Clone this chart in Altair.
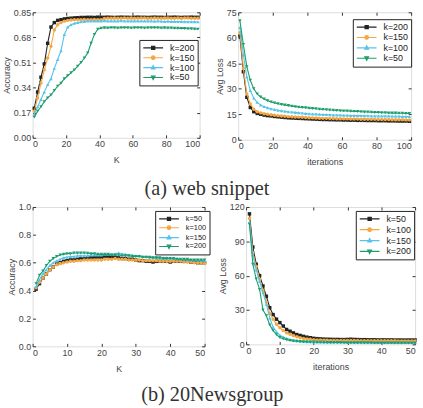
import altair as alt
import pandas as pd

# ---------------- data ----------------
SERIES_A = ["k=200", "k=150", "k=100", "k=50"]
SERIES_B = ["k=50", "k=100", "k=150", "k=200"]
COLORS = ["#222222", "#f4a742", "#56c3ec", "#1d9e6c"]
MARKERS = ["square", "circle", "triangle-up", "triangle-down"]

X_WEB = list(range(1, 101, 2))
X_NEWS = list(range(1, 51))

acc_web_200 = [0.20, 0.31, 0.41, 0.50, 0.64, 0.75, 0.78, 0.795, 0.80, 0.805,
               0.808, 0.81, 0.812, 0.813, 0.815, 0.815, 0.816, 0.816, 0.815, 0.817,
               0.816, 0.816, 0.817, 0.816, 0.815, 0.816, 0.817, 0.816, 0.816, 0.815,
               0.816, 0.817, 0.816, 0.816, 0.815, 0.816, 0.817, 0.816, 0.816, 0.815,
               0.816, 0.816, 0.817, 0.816, 0.815, 0.816, 0.816, 0.817, 0.816, 0.816]
acc_web_150 = [0.18, 0.27, 0.37, 0.46, 0.54, 0.62, 0.73, 0.765, 0.78, 0.79,
               0.795, 0.798, 0.80, 0.80, 0.80, 0.801, 0.80, 0.80, 0.801, 0.80,
               0.80, 0.808, 0.81, 0.81, 0.811, 0.81, 0.81, 0.812, 0.81, 0.811,
               0.81, 0.81, 0.811, 0.812, 0.81, 0.81, 0.811, 0.81, 0.81, 0.812,
               0.811, 0.81, 0.81, 0.811, 0.81, 0.812, 0.811, 0.81, 0.81, 0.81]
acc_web_100 = [0.16, 0.21, 0.26, 0.31, 0.36, 0.40, 0.47, 0.53, 0.59, 0.70,
               0.75, 0.765, 0.775, 0.78, 0.785, 0.787, 0.79, 0.79, 0.79, 0.791,
               0.79, 0.792, 0.79, 0.791, 0.79, 0.79, 0.792, 0.791, 0.79, 0.79,
               0.791, 0.79, 0.79, 0.791, 0.79, 0.79, 0.789, 0.79, 0.789, 0.788,
               0.789, 0.788, 0.787, 0.788, 0.787, 0.786, 0.786, 0.785, 0.786, 0.785]
acc_web_50 = [0.14, 0.18, 0.21, 0.245, 0.27, 0.29, 0.32, 0.35, 0.37, 0.40,
              0.42, 0.44, 0.46, 0.485, 0.51, 0.54, 0.575, 0.64, 0.70, 0.735,
              0.742, 0.745, 0.744, 0.746, 0.745, 0.744, 0.745, 0.746, 0.745, 0.744,
              0.745, 0.746, 0.745, 0.744, 0.745, 0.745, 0.746, 0.745, 0.744, 0.745,
              0.744, 0.743, 0.742, 0.742, 0.741, 0.74, 0.739, 0.738, 0.737, 0.736]

loss_web_200 = [61, 40, 25, 19, 16.5, 15.5, 15, 14.5, 14.2, 14.0,
                13.7, 13.5, 13.3, 13.1, 12.9, 12.8, 12.7, 12.6, 12.5, 12.4,
                12.3, 12.2, 12.1, 12.0, 11.9, 11.9, 11.8, 11.8, 11.7, 11.7,
                11.6, 11.6, 11.5, 11.5, 11.4, 11.4, 11.4, 11.3, 11.3, 11.3,
                11.2, 11.2, 11.2, 11.1, 11.1, 11.1, 11.0, 11.0, 11.0, 10.9]
loss_web_150 = [63, 42, 27, 21, 18, 16.5, 15.8, 15.3, 15.0, 14.7,
                14.4, 14.2, 14.0, 13.8, 13.6, 13.5, 13.4, 13.3, 13.2, 13.1,
                13.0, 12.9, 12.8, 12.7, 12.6, 12.6, 12.5, 12.5, 12.4, 12.4,
                12.3, 12.3, 12.2, 12.2, 12.2, 12.1, 12.1, 12.0, 12.0, 12.0,
                11.9, 11.9, 11.9, 11.9, 11.8, 11.8, 11.8, 11.8, 11.7, 11.7]
loss_web_100 = [66, 50, 37, 29, 24.5, 22, 20.5, 19.5, 18.8, 18.2,
                17.8, 17.4, 17.1, 16.8, 16.5, 16.3, 16.1, 15.9, 15.7, 15.5,
                15.3, 15.2, 15.1, 15.0, 14.9, 14.8, 14.7, 14.6, 14.6, 14.5,
                14.4, 14.4, 14.3, 14.3, 14.2, 14.2, 14.1, 14.1, 14.0, 14.0,
                14.0, 13.9, 13.9, 13.9, 13.8, 13.8, 13.8, 13.7, 13.7, 13.7]
loss_web_50 = [70, 56, 43, 35, 30, 27, 25.2, 24, 23, 22.3,
               21.7, 21.2, 20.8, 20.4, 20.1, 19.8, 19.5, 19.2, 19.0, 18.8,
               18.6, 18.4, 18.2, 18.0, 17.8, 17.7, 17.5, 17.4, 17.2, 17.1,
               17.0, 16.9, 16.8, 16.7, 16.6, 16.5, 16.4, 16.3, 16.2, 16.1,
               16.0, 15.9, 15.9, 15.8, 15.7, 15.7, 15.6, 15.6, 15.5, 15.5]

acc_news_50 = [0.41, 0.45, 0.49, 0.52, 0.55, 0.57, 0.59, 0.60, 0.61, 0.615,
               0.62, 0.62, 0.625, 0.63, 0.63, 0.635, 0.635, 0.64, 0.64, 0.64,
               0.645, 0.645, 0.64, 0.64, 0.635, 0.63, 0.63, 0.625, 0.625, 0.62,
               0.615, 0.615, 0.61, 0.61, 0.605, 0.61, 0.61, 0.61, 0.61, 0.605,
               0.61, 0.61, 0.61, 0.61, 0.61, 0.605, 0.605, 0.60, 0.60, 0.60]
acc_news_100 = [0.42, 0.46, 0.49, 0.52, 0.55, 0.57, 0.585, 0.595, 0.60, 0.605,
                0.61, 0.61, 0.615, 0.615, 0.62, 0.62, 0.62, 0.62, 0.62, 0.62,
                0.625, 0.625, 0.625, 0.63, 0.625, 0.625, 0.625, 0.62, 0.62, 0.62,
                0.62, 0.615, 0.615, 0.615, 0.615, 0.615, 0.61, 0.61, 0.61, 0.61,
                0.61, 0.61, 0.61, 0.605, 0.605, 0.605, 0.60, 0.60, 0.60, 0.595]
acc_news_150 = [0.43, 0.48, 0.52, 0.55, 0.58, 0.60, 0.615, 0.625, 0.635, 0.64,
                0.645, 0.645, 0.65, 0.65, 0.65, 0.65, 0.655, 0.655, 0.655, 0.655,
                0.66, 0.66, 0.66, 0.665, 0.67, 0.665, 0.66, 0.655, 0.655, 0.65,
                0.65, 0.645, 0.645, 0.64, 0.64, 0.64, 0.635, 0.635, 0.635, 0.63,
                0.63, 0.63, 0.625, 0.625, 0.625, 0.62, 0.62, 0.62, 0.615, 0.615]
acc_news_200 = [0.45, 0.51, 0.54, 0.58, 0.61, 0.63, 0.645, 0.655, 0.66, 0.665,
                0.665, 0.67, 0.67, 0.67, 0.67, 0.668, 0.665, 0.665, 0.66, 0.66,
                0.66, 0.66, 0.655, 0.655, 0.655, 0.65, 0.65, 0.65, 0.645, 0.645,
                0.645, 0.64, 0.64, 0.64, 0.635, 0.635, 0.635, 0.63, 0.63, 0.63,
                0.63, 0.625, 0.625, 0.625, 0.625, 0.62, 0.62, 0.62, 0.62, 0.62]

loss_news_50 = [114, 85, 70, 60, 51, 42, 32, 26, 22, 19,
                16, 13, 11.5, 10, 8.6, 7.8, 7.0, 6.3, 5.8, 5.3,
                5.0, 4.8, 4.6, 4.5, 4.4, 4.3, 4.3, 4.2, 4.2, 4.3,
                4.5, 4.3, 4.2, 4.1, 4.1, 4.0, 4.0, 4.0, 3.9, 3.9,
                3.9, 3.9, 3.9, 3.8, 3.8, 3.8, 3.8, 3.8, 3.8, 3.8]
loss_news_100 = [110, 80, 68, 57, 47, 37, 27, 22, 17.5, 14.5,
                 12, 10, 8.8, 7.6, 6.6, 5.8, 5.2, 4.8, 4.4, 4.1,
                 3.9, 3.8, 3.7, 3.6, 3.5, 3.5, 3.4, 3.4, 3.4, 3.3,
                 3.3, 3.3, 3.3, 3.2, 3.2, 3.2, 3.2, 3.2, 3.1, 3.1,
                 3.1, 3.1, 3.1, 3.1, 3.0, 3.0, 3.0, 3.0, 3.0, 3.0]
loss_news_150 = [107, 78, 65, 55, 45, 35, 23, 15, 11, 8,
                 6.5, 5.2, 4.3, 3.6, 3.1, 2.8, 2.5, 2.3, 2.2, 2.1,
                 2.0, 2.0, 1.9, 1.9, 1.9, 1.8, 1.8, 1.8, 1.8, 1.7,
                 1.7, 1.7, 1.7, 1.7, 1.6, 1.6, 1.6, 1.6, 1.6, 1.6,
                 1.6, 1.5, 1.5, 1.5, 1.5, 1.5, 1.5, 1.5, 1.5, 1.5]
loss_news_200 = [105, 70, 57, 48, 30, 25, 17, 12, 8.5, 6,
                 4.8, 4.0, 3.4, 3.0, 2.7, 2.5, 2.3, 2.2, 2.1, 2.0,
                 1.9, 1.8, 1.8, 1.7, 1.7, 1.6, 1.6, 1.6, 1.5, 1.5,
                 1.5, 1.5, 1.4, 1.4, 1.4, 1.4, 1.4, 1.3, 1.3, 1.3,
                 1.3, 1.3, 1.3, 1.2, 1.2, 1.2, 1.2, 1.2, 1.2, 1.2]

# legend symbols: short line with a marker in the middle
LEGEND_PATHS = [
    "M-2.5,0H2.5M-0.4,-0.4H0.4V0.4H-0.4Z",
    "M-2.5,0H2.5M0.45,0A0.45,0.45,0,1,1,-0.45,0A0.45,0.45,0,1,1,0.45,0Z",
    "M-2.5,0H2.5M0,-0.5L0.45,0.35H-0.45Z",
    "M-2.5,0H2.5M0,0.5L0.45,-0.35H-0.45Z",
]

FONT = "Liberation Sans"
GREY = "#444444"


def panel(xv, names, values, x_title, y_title, x_dom, x_ticks, y_dom, y_ticks,
          y_fmt, w, h, leg_x, leg_y, leg_font, leg_rowpad):
    rows = []
    for name, vals in zip(names, values):
        for a, b in zip(xv, vals):
            rows.append({"x": a, "y": b, "k": name})
    df = pd.DataFrame(rows)
    base = alt.Chart(df)
    xs = alt.Scale(domain=x_dom, nice=False, zero=False)
    ys = alt.Scale(domain=y_dom, nice=False, zero=False)
    ax_x = alt.Axis(values=x_ticks, title=x_title, grid=False, domain=False,
                    tickSize=3, offset=-3, tickColor="#333", labelPadding=2,
                    labelFont=FONT, labelFontSize=9, labelColor=GREY,
                    titleFont=FONT, titleFontSize=9, titleFontWeight="normal",
                    titleColor=GREY, titlePadding=7, format="d")
    ax_y = alt.Axis(values=y_ticks, title=y_title, grid=False, domain=False,
                    tickSize=3, offset=-3, tickColor="#333", labelPadding=2,
                    labelFont=FONT, labelFontSize=9, labelColor=GREY,
                    titleFont=FONT, titleFontSize=9, titleFontWeight="normal",
                    titleColor=GREY, titlePadding=2, format=y_fmt)
    ax_top = alt.Axis(orient="top", values=x_ticks, title=None, labels=False,
                      grid=False, domain=False, tickSize=3, offset=-3, tickColor="#333")
    ax_right = alt.Axis(orient="right", values=y_ticks, title=None, labels=False,
                        grid=False, domain=False, tickSize=3, offset=-3, tickColor="#333")
    layers = []
    for i, name in enumerate(names):
        sub = base.transform_filter(alt.datum.k == name)
        first = i == 0
        layers.append(sub.mark_line(color=COLORS[i], strokeWidth=1.1).encode(
            x=alt.X("x:Q", scale=xs, axis=ax_x if first else None),
            y=alt.Y("y:Q", scale=ys, axis=ax_y if first else None)))
        layers.append(sub.mark_point(color=COLORS[i], filled=True, opacity=1,
                                     shape=MARKERS[i], size=12).encode(
            x=alt.X("x:Q", scale=xs, axis=None),
            y=alt.Y("y:Q", scale=ys, axis=None)))
    layers.append(base.transform_filter("false").mark_point(opacity=0).encode(
        x=alt.X("x:Q", scale=xs, axis=ax_top),
        y=alt.Y("y:Q", scale=ys, axis=ax_right)))
    leg = alt.Legend(orient="none", legendX=leg_x, legendY=leg_y, title=None,
                     strokeColor="#222", fillColor="white", padding=3,
                     labelFont=FONT, labelFontSize=leg_font, labelColor="#222",
                     symbolSize=64, symbolStrokeWidth=1.2, symbolOpacity=1,
                     symbolOffset=6, labelOffset=12, rowPadding=leg_rowpad)
    layers.append(base.transform_filter("false").mark_point(filled=True).encode(
        x=alt.X("x:Q", scale=xs, axis=None),
        y=alt.Y("y:Q", scale=ys, axis=None),
        shape=alt.Shape("k:N", scale=alt.Scale(domain=names, range=LEGEND_PATHS), legend=leg),
        fill=alt.Fill("k:N", scale=alt.Scale(domain=names, range=COLORS), legend=leg),
        stroke=alt.Stroke("k:N", scale=alt.Scale(domain=names, range=COLORS), legend=leg)))
    return alt.layer(*layers).resolve_axis(x="independent", y="independent").properties(
        width=w, height=h)


p1 = panel(X_WEB, SERIES_A, [acc_web_200, acc_web_150, acc_web_100, acc_web_50],
           "K", "Accuracy", [0, 100], [0, 20, 40, 60, 80, 100], [0, 0.85],
           [0, 0.17, 0.34, 0.51, 0.68, 0.85], ".2f", 169, 127, 108, 28, 9, 0)
p2 = panel(X_WEB, SERIES_A, [loss_web_200, loss_web_150, loss_web_100, loss_web_50],
           "iterations", "Avg Loss", [0, 100], [0, 20, 40, 60, 80, 100], [0, 75],
           [0, 15, 30, 45, 60, 75], "d", 175, 129, 116, 7, 9, 0.5)
p3 = panel(X_NEWS, SERIES_B, [acc_news_50, acc_news_100, acc_news_150, acc_news_200],
           "K", "Accuracy", [0, 50], [0, 10, 20, 30, 40, 50], [0, 1.0],
           [0, 0.2, 0.4, 0.6, 0.8, 1.0], ".1f", 174, 141, 124, 4, 7.5, 0)
p4 = panel(X_NEWS, SERIES_B, [loss_news_50, loss_news_100, loss_news_150, loss_news_200],
           "iterations", "Avg Loss", [0, 50], [0, 10, 20, 30, 40, 50], [0, 120],
           [0, 30, 60, 90, 120], "d", 171, 139, 111, 4, 9, 1)

ind = dict(shape="independent", fill="independent", stroke="independent")

cap = dict(orient="bottom", font="Liberation Serif", fontSize=20.5,
           fontWeight="normal", color="#333", anchor="middle", offset=12)

top = alt.hconcat(p1, p2, spacing=13).resolve_scale(**ind).properties(
    title=alt.TitleParams("(a) web snippet", **cap))
bottom = alt.hconcat(p3, p4, spacing=7).resolve_scale(**ind).properties(
    title=alt.TitleParams("(b) 20Newsgroup", **cap))

chart = alt.vconcat(top, bottom, spacing=3).resolve_scale(**ind).configure_view(
    stroke="#333", strokeWidth=1).configure(
    padding={"left": 1, "top": 5, "right": 5, "bottom": 2}, background="white")

chart.save("out.html", embed_options={"renderer": "svg", "actions": False})
